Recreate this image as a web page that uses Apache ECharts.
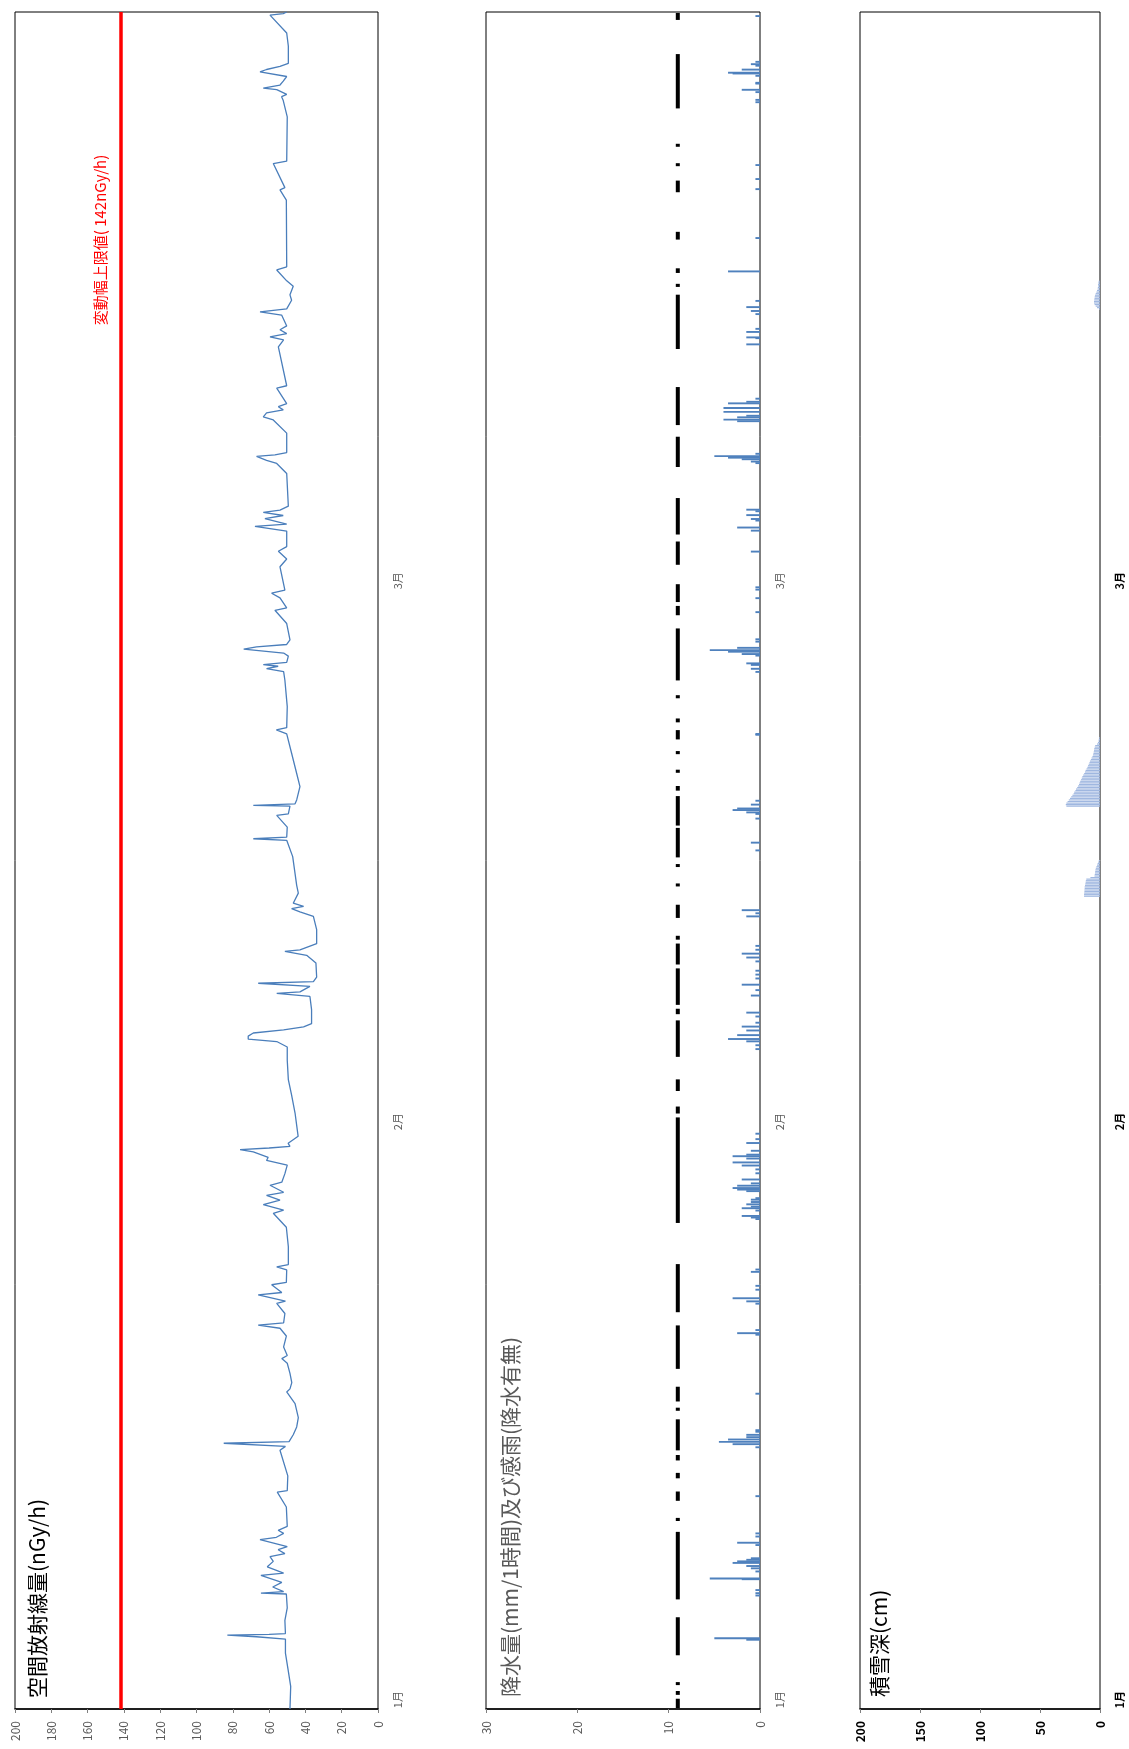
<!DOCTYPE html>
<html><head><meta charset="utf-8">
<script src="https://cdn.jsdelivr.net/npm/echarts@6/dist/echarts.min.js"></script>
<style>html,body{margin:0;padding:0;background:#fff}#c{width:1129px;height:1749px}</style>
</head><body><div id="c"></div>
<script>
// ---- time: hours since 2024-01-01 00:00 ----
const monthLabels = ['1月', '2月', '3月'];
const monthLabelHour = [12, 756, 1452];

// ---- 空間放射線量 (nGy/h) ----
const radHour = [0,29,50,72,90,93,95,96,97,114,130,148,149,151,157,163,172,175,183,190,196,200,205,209,218,221,226,230,235,260,279,281,300,333,338,342,344,353,363,375,393,408,412,420,432,445,451,455,466,480,490,494,497,509,522,525,533,536,546,549,565,569,572,595,620,638,642,649,655,661,665,674,678,689,700,706,710,717,720,722,724,728,737,767,790,810,835,852,859,862,866,870,874,878,882,900,917,921,923,930,934,936,942,960,970,975,977,985,1003,1020,1026,1030,1033,1037,1050,1060,1075,1097,1118,1120,1122,1135,1150,1152,1162,1163,1165,1170,1187,1204,1230,1255,1260,1263,1290,1324,1335,1339,1342,1344,1347,1355,1359,1364,1367,1370,1376,1397,1414,1417,1430,1436,1440,1470,1480,1490,1496,1516,1522,1525,1532,1536,1540,1543,1548,1590,1603,1607,1612,1614,1617,1642,1659,1663,1668,1672,1676,1680,1700,1703,1753,1762,1766,1770,1775,1780,1794,1798,1802,1813,1820,1831,1838,1852,1856,1942,1955,1958,1989,1992,2049,2070,2075,2078,2084,2086,2090,2095,2101,2107,2110,2114,2118,2140,2157,2180,2182,2184];
const radValue = [48.5,48.1,49.5,51,51,67,83,60,51,51.3,50,50.5,64.5,52,58,53,64.5,52,61,57.7,59.5,51.3,55,50,65,56,52,55,50,50.5,55.5,50,49.7,54,51,85,49,46.7,44.8,43.9,45.7,50.3,48.5,47.5,48.5,50,53,50,52,50.5,54,66,52,51.3,55.8,51,66,53,58.6,50.5,50.3,55.8,49.4,49.4,50.5,57.7,52,63.2,54,61.4,52,59.5,53,51.3,50,61.4,60.5,68.7,76,60,48.5,49.5,44,45.7,47.6,49.4,50,50,55.8,71.5,71.5,68.7,52,41,36.6,36.6,37.5,55.8,43,37.5,66,35.6,33.8,34.2,39.3,51.3,43,33.8,33.8,35.6,43,47.6,41,46.7,43.9,44.8,45.7,47,50.3,68.7,50.3,50,55.8,49.4,48.5,68.7,45.7,44.8,43,44.8,47.6,50.3,56,50.3,50,51.3,52,61.4,55,63.2,50.3,49.4,52,74,66.9,50.3,48.5,50.3,56.8,50.3,54,58.6,51.3,54,50.3,54.9,50.3,50.3,67.8,50.3,62.3,52.2,63.2,54,49.4,50.3,55.8,61.4,66.9,56.8,50.3,50.3,57.7,63.2,61.4,52.2,54.9,50.3,55.8,50.3,54.9,52,59.5,50.3,54,50.3,53.1,65,50.3,47.6,48.5,46.7,50.3,55.8,50.3,50.5,54,51.3,57.7,50.3,50,52.2,53.1,50.3,55.8,63.2,54,52.2,50.3,65,61.4,54,49.4,49.4,50.3,59.5,52.2,50.3];
const upperLimit = 142;
const upperLimitLabel = '変動幅上限値( 142nGy/h)';

// ---- 降水量 (mm/1時間) ----
const rainHour = [88,90,145,148,152,166,167,176,180,183,187,189,191,193,210,213,221,225,273,336,340,343,346,349,352,356,358,405,481,483,487,521,524,528,539,544,562,565,630,632,634,641,644,646,649,652,655,657,666,668,670,673,676,681,689,694,699,703,708,711,713,718,728,733,740,849,854,859,862,867,873,878,883,891,896,918,925,932,940,945,950,962,967,972,977,982,1020,1024,1028,1105,1115,1146,1152,1154,1157,1159,1164,1169,1254,1255,1335,1339,1344,1346,1356,1358,1361,1363,1366,1374,1377,1412,1430,1441,1444,1490,1517,1521,1530,1532,1537,1542,1544,1604,1606,1609,1611,1613,1616,1658,1660,1663,1665,1670,1675,1681,1683,1687,1757,1765,1766,1773,1777,1796,1800,1805,1813,1851,1894,1957,1970,1988,2069,2072,2082,2085,2093,2094,2103,2106,2107,2111,2116,2118,2121,2180];
const rainMm = [1.5,5.0,0.5,0.5,0.5,2.0,5.5,0.5,1.0,1.5,3.0,2.5,1.5,1.0,0.5,2.5,0.5,0.5,0.5,0.5,3.0,4.5,3.5,1.5,1.5,0.5,0.5,0.5,0.5,2.5,0.5,0.5,1.5,3.0,0.5,0.5,1.0,0.5,0.5,1.0,2.0,0.5,2.0,1.0,1.5,1.0,1.0,0.5,1.5,2.5,3.0,2.5,1.0,2.0,0.5,0.5,2.0,3.0,1.5,3.0,1.5,1.0,1.5,0.5,0.5,0.5,0.5,1.5,3.5,2.5,1.5,2.0,0.5,0.5,1.5,1.0,0.5,2.0,0.5,0.5,0.5,0.5,1.5,2.0,0.5,0.5,1.5,0.5,2.0,0.5,1.0,0.5,0.5,1.5,3.0,2.5,1.0,0.5,0.5,0.5,0.5,1.0,1.0,1.5,0.5,2.0,3.5,5.5,2.5,0.5,0.5,0.5,0.5,0.5,0.5,1.0,1.0,2.5,0.5,1.0,1.5,0.5,1.5,0.5,1.0,2.0,3.5,5.0,0.5,2.5,4.0,2.5,1.5,4.0,4.0,3.5,1.5,0.5,1.5,0.5,1.5,1.5,0.5,0.5,1.0,1.5,0.5,3.5,0.5,0.5,0.5,0.5,0.5,0.5,0.5,2.0,0.5,0.5,0.5,3.0,3.5,2.0,0.5,1.0,0.5,0.5];

// ---- 感雨 (降水有無): sensed periods, hours ----
const rainSensedStart = [0,17,30,68,140,241,267,296,319,332,383,395,437,510,625,766,795,839,894,906,958,990,1018,1059,1084,1096,1137,1182,1205,1229,1248,1270,1301,1324,1408,1425,1473,1512,1599,1653,1751,1831,1849,1892,1953,1987,2012,2061,2175];
const rainSensedEnd   = [12,22,33,117,227,245,279,303,326,372,387,414,493,572,761,775,810,886,901,953,985,995,1035,1062,1087,1134,1175,1188,1209,1233,1260,1275,1305,1391,1420,1448,1503,1559,1638,1702,1821,1835,1855,1902,1968,1990,2015,2131,2184];
const rainSensedLevel = 9;

// ---- 積雪深 (cm) ----
const snowHour = [1046,1048,1050,1052,1054,1056,1058,1060,1062,1064,1066,1068,1070,1072,1074,1076,1078,1080,1082,1084,1086,1088,1090,1092,
  1162,1164,1166,1168,1170,1172,1174,1176,1178,1180,1182,1184,1186,1188,1190,1192,1194,1196,1198,1200,1202,1204,1206,1208,1210,1212,1214,1216,1218,1220,1222,1224,1226,1228,1230,1232,1234,1236,1238,1240,1242,1244,1246,1248,1250,
  1802,1804,1806,1808,1810,1812,1814,1816,1818,1820,1822,1824,1826,1828,1830,1832,1834,1836,1838];
const snowCm = [13.3,13.3,13.2,13.0,13.0,12.8,12.8,12.5,12.2,12.0,11.8,11.4,8.0,4.6,4.4,4.2,4.0,3.8,3.5,3.0,2.5,2.0,1.5,1.0,
  28,28.5,28,27,26,25,24,23,22,21.5,20.5,20,19,18.3,17.5,17,16.5,15.8,15.2,14.7,14,13.2,12.5,12,11.2,10.5,10,9.4,8.8,8.4,7.6,7,6.3,5.8,5.5,5.2,5,4.8,4.4,4,2.5,1.7,1.2,1,0.8,
  0.8,2.5,3.6,4.5,5,5,4.8,4.6,4.4,4.2,3.6,3,2.5,2,1.8,1.7,1.6,1.4,1.2];

const titles = ['空間放射線量(nGy/h)', '降水量(mm/1時間)及び感雨(降水有無)', '積雪深(cm)'];

// ---------------------------------------------------------------
const FONT = '"Noto Sans CJK JP", "Noto Sans", sans-serif';
const T0 = Date.UTC(2024, 0, 1);
const t = h => T0 + h * 3600000;
const TMAX = 2184;

const grids = [
  {left: 15, top: 12, width: 363, height: 1697},
  {left: 486, top: 12, width: 274, height: 1697},
  {left: 860, top: 12, width: 240, height: 1697}
].map(g => Object.assign(g, {show: true, borderColor: '#000', borderWidth: 1, backgroundColor: 'transparent'}));

function valueAxis(gi, max, interval, bold) {
  return {
    type: 'value', gridIndex: gi, min: 0, max: max, interval: interval, inverse: true, position: 'bottom',
    axisLine: {show: true, onZero: false, lineStyle: {color: '#000', width: 1.5}},
    axisTick: {show: true, length: 4, lineStyle: {color: '#808080'}},
    splitLine: {show: false},
    axisLabel: {rotate: 90, margin: 12, fontSize: 12, fontWeight: bold ? 'bold' : 'normal',
      color: bold ? '#000' : '#595959', fontFamily: FONT}
  };
}
// time axis carrying the data (no labels)
function timeAxis(gi) {
  return {
    type: 'time', gridIndex: gi, position: 'right', min: t(0), max: t(TMAX),
    axisLine: {show: false}, axisTick: {show: false}, splitLine: {show: false}, axisLabel: {show: false}
  };
}
// same time range in hours, carrying the month labels
function monthAxis(gi, bold) {
  return {
    type: 'value', gridIndex: gi, position: 'right', min: 0, max: TMAX,
    axisLine: {show: false}, axisTick: {show: false}, splitLine: {show: false},
    axisLabel: {
      customValues: monthLabelHour, rotate: 90, margin: 14,
      fontSize: 11, fontWeight: bold ? 'bold' : 'normal', color: bold ? '#000' : '#595959', fontFamily: FONT,
      formatter: v => monthLabels[monthLabelHour.indexOf(v)] || ''
    }
  };
}

const option = {
  animation: false,
  backgroundColor: '#fff',
  grid: grids,
  xAxis: [valueAxis(0, 200, 20, false), valueAxis(1, 30, 10, false), valueAxis(2, 200, 50, true)],
  yAxis: [timeAxis(0), timeAxis(1), timeAxis(2), monthAxis(0, false), monthAxis(1, false), monthAxis(2, true)],
  series: [
    {
      name: '空間放射線量', type: 'line', xAxisIndex: 0, yAxisIndex: 0,
      data: radHour.map((h, i) => [radValue[i], t(h)]),
      showSymbol: false, lineStyle: {color: '#4A7EBB', width: 1.3}, itemStyle: {color: '#4A7EBB'},
      markLine: {
        silent: true, symbol: 'none', label: {show: false},
        lineStyle: {color: '#FF0000', width: 3.5, type: 'solid'},
        data: [{xAxis: upperLimit}]
      }
    },
    {
      name: '降水量', type: 'bar', xAxisIndex: 1, yAxisIndex: 1,
      data: rainHour.map((h, i) => [rainMm[i], t(h)]),
      barWidth: 1.9, itemStyle: {color: '#4F81BD'}
    },
    {
      name: '感雨', type: 'custom', xAxisIndex: 1, yAxisIndex: 1,
      dimensions: ['level', 'start', 'end'],
      data: rainSensedStart.map((s, i) => [rainSensedLevel, t(s), t(rainSensedEnd[i])]),
      encode: {x: 0, y: [1, 2]},
      renderItem: (params, api) => {
        const a = api.coord([api.value(0), api.value(1)]);
        const b = api.coord([api.value(0), api.value(2)]);
        let y0 = Math.min(a[1], b[1]), hgt = Math.abs(a[1] - b[1]);
        if (hgt < 3) { y0 -= (3 - hgt) / 2; hgt = 3; }
        return {type: 'rect', shape: {x: a[0] - 2, y: y0, width: 4, height: hgt}, style: {fill: '#000'}};
      }
    },
    {
      name: '積雪深', type: 'bar', xAxisIndex: 2, yAxisIndex: 2,
      data: snowHour.map((h, i) => [snowCm[i], t(h)]),
      barWidth: 1.2, itemStyle: {color: '#9FB7E0'}
    }
  ],
  graphic: [
    {type: 'text', x: 37, y: 1698, rotation: Math.PI / 2,
      style: {text: titles[0], fontSize: 21, fontFamily: FONT, fill: '#000', align: 'left', verticalAlign: 'middle'}},
    {type: 'text', x: 510, y: 1697, rotation: Math.PI / 2,
      style: {text: titles[1], fontSize: 21, fontFamily: FONT, fill: '#595959', align: 'left', verticalAlign: 'middle'}},
    {type: 'text', x: 879, y: 1697, rotation: Math.PI / 2,
      style: {text: titles[2], fontSize: 21, fontFamily: FONT, fill: '#000', align: 'left', verticalAlign: 'middle'}},
    {type: 'text', x: 100, y: 240, rotation: Math.PI / 2,
      style: {text: upperLimitLabel, fontSize: 15, fontFamily: FONT, fill: '#FF0000', align: 'center', verticalAlign: 'middle'}}
  ]
};
const chart = echarts.init(document.getElementById('c'), null, {renderer: 'canvas'});
chart.setOption(option);
</script>
</body></html>
